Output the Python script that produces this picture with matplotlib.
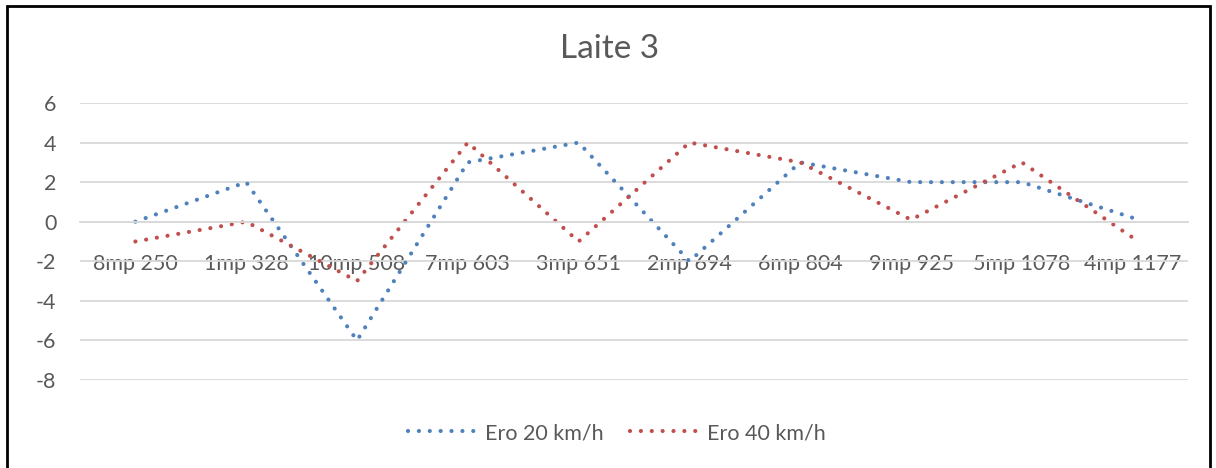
import matplotlib
matplotlib.use("Agg")
import matplotlib.pyplot as plt
from matplotlib.patches import Rectangle

categories = ["8mp 250", "1mp 328", "10mp 508", "7mp 603", "3mp 651",
              "2mp 694", "6mp 804", "9mp 925", "5mp 1078", "4mp 1177"]
ero20 = [0, 2, -6, 3, 4, -2, 3, 2, 2, 0.2]
ero40 = [-1, 0, -3, 4, -1, 4, 3, 0.1, 3, -0.8]
series_names = ["Ero 20 km/h", "Ero 40 km/h"]
title = "Laite 3"

plt.rcParams['font.family'] = ['Lato', 'DejaVu Sans']
txt = "#595959"
W, H = 1216, 468
fig = plt.figure(figsize=(W/100, H/100), dpi=100)
ax = fig.add_axes([80/W, 1-380/H, (1188-80)/W, (380-103)/H])

x = list(range(len(categories)))
ls = (0, (0.01, 2.6))
ax.plot(x, ero20, color="#4F81BD", lw=3.0, linestyle=ls, dash_capstyle='round', label=series_names[0])
ax.plot(x, ero40, color="#C0504D", lw=3.0, linestyle=ls, dash_capstyle='round', label=series_names[1])

ax.set_xlim(-0.5, len(categories)-0.5)
ax.set_ylim(-8, 6)
ax.set_yticks(range(-8, 7, 2))
ax.set_yticklabels([str(v) for v in range(-8, 7, 2)], color=txt, fontsize=15.5)
ax.grid(axis='y', color="#D9D9D9", lw=1.3)
ax.set_axisbelow(True)
for s in ['top', 'right', 'left']:
    ax.spines[s].set_visible(False)
ax.spines['bottom'].set_position(('data', 0))
ax.spines['bottom'].set_color("#D9D9D9")
ax.spines['bottom'].set_linewidth(1.3)
ax.set_xticks(x)
ax.set_xticklabels(categories, color=txt, fontsize=15.5)
ax.tick_params(axis='x', length=0, pad=23)
ax.tick_params(axis='y', length=0, pad=17)

fig.text(610/W, 1-49/H, title, ha='center', va='center', fontsize=24, color=txt)

leg = fig.legend(loc='center', bbox_to_anchor=(617/W, 1-433/H), ncol=2, frameon=False,
                 fontsize=15.5, labelcolor=txt, handlelength=3.3, columnspacing=1.2, handletextpad=0.3)

fig.patches.append(Rectangle((7/W, -0.01), (1210-7)/W, 1-6/H+0.01, transform=fig.transFigure,
                             fill=False, edgecolor='black', lw=2))
fig.savefig("out.png", dpi=100)
